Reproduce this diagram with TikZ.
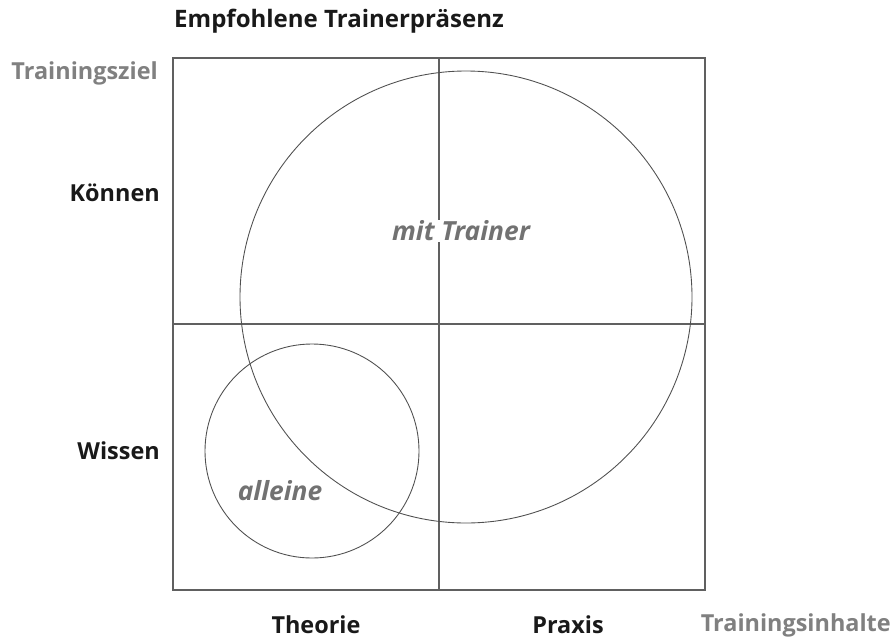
\documentclass[tikz,border=0pt]{standalone}
\usepackage{fontspec}
\setmainfont{Open Sans}
\usepackage{tikz}

\definecolor{achse}{HTML}{808080}
\definecolor{linie}{HTML}{606060}
\definecolor{kreis}{HTML}{505050}
\definecolor{feld}{HTML}{727272}

\tikzset{
  lbl/.style={font=\fontsize{20}{24}\selectfont\bfseries, text=black!90, inner sep=0pt},
  achsenlbl/.style={lbl, text=achse},
  feldlbl/.style={font=\fontsize{22.5}{26}\selectfont\bfseries\itshape, text=feld, fill=white, inner sep=1pt}
}

\begin{document}
\begin{tikzpicture}[x=0.03cm,y=-0.03cm]
\useasboundingbox (0,0) rectangle (892,640);

\coordinate (lo) at (173,58);
\coordinate (ru) at (705,590);
\coordinate (mo) at (439,58);
\coordinate (mu) at (439,590);
\coordinate (ml) at (173,324);
\coordinate (mr) at (705,324);
\coordinate (gross) at (466,297);
\coordinate (klein) at (312,451);

% Raster
\draw[linie, line width=1.1pt] (lo) rectangle (ru);
\draw[linie, line width=1.1pt] (mo) -- (mu);
\draw[linie, line width=1.1pt] (ml) -- (mr);

% Kreise
\draw[kreis, line width=0.75pt] (gross) circle (226);
\draw[kreis, line width=0.75pt] (klein) circle (107);

\node[feldlbl] (trainer) at (461,231) {mit Trainer};
\node[feldlbl, fill=none] (alleine) at (280,491) {alleine};

% Achsen
\node[lbl, anchor=west, font=\fontsize{20.5}{24}\selectfont\bfseries] (titel) at (174,21) {Empfohlene Trainerpräsenz};
\node[achsenlbl, anchor=east] (ziel) at (158,73) {Trainingsziel};
\node[lbl, anchor=east] (koennen) at (160,193) {Können};
\node[lbl, anchor=east] (wissen) at (160,451) {Wissen};
\node[lbl] (theorie) at (316,625) {Theorie};
\node[lbl] (praxis) at (568,625) {Praxis};
\node[achsenlbl, anchor=east] (inhalte) at (891,625) {Trainingsinhalte};
\end{tikzpicture}
\end{document}
